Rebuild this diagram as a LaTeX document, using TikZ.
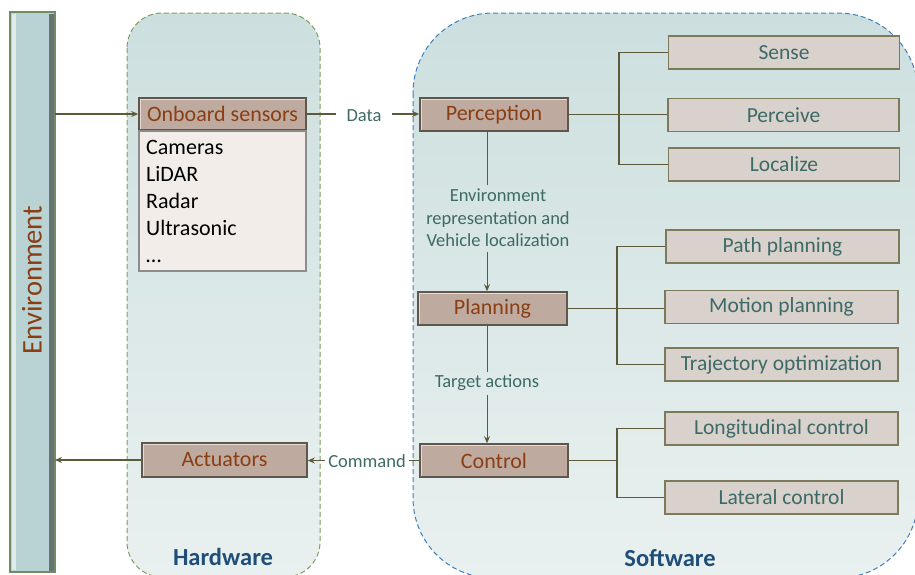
\documentclass[tikz,border=0pt]{standalone}
\usepackage{fontspec}
\setmainfont{Carlito}
\usetikzlibrary{arrows.meta,calc}
\definecolor{brownfill}{HTML}{BFAA9F}
\definecolor{brownedge}{HTML}{5F574E}
\definecolor{brownlight}{HTML}{E6DAD2}
\definecolor{browntext}{HTML}{8A3E14}
\definecolor{tealtext}{HTML}{3D6A67}
\definecolor{subfill}{HTML}{D9D1CC}
\definecolor{subedge}{HTML}{7D7A5C}
\definecolor{linecol}{HTML}{5C5A3A}
\definecolor{listfill}{HTML}{F2EDE9}
\definecolor{envfill}{HTML}{B9D3D4}
\definecolor{envedge}{HTML}{6F8C62}
\definecolor{regtop}{HTML}{CCDFDE}
\definecolor{regbot}{HTML}{E9F1F0}
\definecolor{hwedge}{HTML}{7C9E5E}
\definecolor{swedge}{HTML}{3F7FC0}
\definecolor{titleblue}{HTML}{1F4E79}
\tikzset{
  mainbox/.style={draw=brownedge, line width=1.6pt, fill=brownfill, text=browntext,
    font=\fontsize{22}{24}\selectfont, inner sep=0pt,
    path picture={\draw[brownlight, line width=1.6pt]
      ([shift={(1.6pt,1.2pt)}]path picture bounding box.south west) --
      ([shift={(1.6pt,-1.6pt)}]path picture bounding box.north west) --
      ([shift={(-1.2pt,-1.6pt)}]path picture bounding box.north east);}},
  subbox/.style={draw=subedge, line width=1.2pt, fill=subfill, text=tealtext,
    font=\fontsize{21.5}{24}\selectfont, minimum width=231pt, minimum height=33pt, inner sep=0pt},
  lbl/.style={text=tealtext, font=\fontsize{18.5}{22}\selectfont, inner sep=1pt},
  conn/.style={draw=linecol, line width=1.2pt},
  thin/.style={draw=linecol, line width=1pt},
  arr/.style={-{Stealth[length=7pt,width=6pt]}},
  tree/.style={draw=linecol, line width=1.2pt},
  title/.style={text=titleblue, font=\fontsize{24.5}{28}\selectfont\bfseries},
  regdash/.style={dash pattern=on 5pt off 3pt, line width=1pt},
}
\begin{document}
\begin{tikzpicture}[x=1pt,y=-1pt]
\useasboundingbox (0,0) rectangle (915,574);
% regions
\shade[top color=regtop, bottom color=regbot, rounded corners=35pt]
  (127,13) rectangle (320,577);
\draw[hwedge, regdash, rounded corners=35pt]
  (127,13) rectangle (320,577);
\shade[top color=regtop, bottom color=regbot, rounded corners=80pt]
  (413,13) rectangle (918,578);
\draw[swedge, regdash, rounded corners=80pt]
  (413,13) rectangle (918,578);
% environment bar
\fill[envfill] (10,12) rectangle (55,572);
\fill[black!45!envfill] (49,14) rectangle (55,572);
\fill[white!55!envfill] (12,14) rectangle (16,570);
\draw[envedge, line width=1.2pt] (10,12) rectangle (55,572);
\node[rotate=90, text=browntext, font=\fontsize{28.5}{30}\selectfont] (env) at (32,280) {Environment};
\coordinate (envtop) at (55,114);
\coordinate (envbot) at (55,460);
% hardware boxes
\node[mainbox, minimum width=167pt, minimum height=32pt] (sens) at (222.5,114) {Onboard sensors};
\node[draw=black!45, line width=1.4pt, fill=listfill, minimum width=167pt, minimum height=140pt,
  inner sep=0pt] (list) at (222.5,201) {};
\node[anchor=west, align=left, font=\fontsize{22}{27}\selectfont, inner sep=0pt] at (146,201)
  {Cameras\\LiDAR\\Radar\\Ultrasonic\\…};
\node[mainbox, minimum width=165pt, minimum height=34pt] (act) at (224.5,460) {Actuators};
% software main boxes
\node[mainbox, minimum width=148pt, minimum height=33pt] (perc) at (494,114.5) {Perception};
\node[mainbox, minimum width=149pt, minimum height=33pt] (plan) at (492.5,308.5) {Planning};
\node[mainbox, minimum width=148pt, minimum height=33pt] (ctrl) at (494,460.5) {Control};
% sub boxes
\node[subbox] (sense) at (784,52.5) {Sense};
\node[subbox] (perceive) at (783.5,115) {Perceive};
\node[subbox] (localize) at (784,164.5) {Localize};
\node[subbox, minimum width=233pt] (path) at (782.5,246.5) {Path planning};
\node[subbox, minimum width=233pt] (motion) at (781.5,307) {Motion planning};
\node[subbox, minimum width=233pt] (traj) at (781.5,364.5) {Trajectory optimization};
\node[subbox, minimum width=233pt] (long) at (781.5,428.5) {Longitudinal control};
\node[subbox, minimum width=233pt] (lat) at (781.5,497.5) {Lateral control};
% labels
\node[lbl, inner xsep=10pt] (data) at (364,116) {Data};
\node[lbl, align=center, font=\fontsize{18.5}{22.5}\selectfont] (envrep) at (498,218)
  {Environment\\representation and\\Vehicle localization};
\node[lbl] (target) at (487,383) {Target actions};
\node[lbl, inner xsep=3pt] (cmd) at (367,461) {Command};
% connectors
\draw[conn, arr] (envtop) -- (envtop -| sens.west);
\draw[conn] (sens.east) -- (sens.east -| data.west);
\draw[conn, arr] (sens.east -| data.east) -- (sens.east -| perc.west);
\draw[thin] (perc.south -| 487,0) -- (487,185);
\draw[thin, arr] (487,252) -- (plan.north -| 487,0);
\draw[thin] (plan.south -| 487,0) -- (487,372);
\draw[thin, arr] (487,395) -- (ctrl.north -| 487,0);
\draw[conn] (ctrl.west) -- (ctrl.west -| cmd.east);
\draw[conn, arr] (ctrl.west -| cmd.west) -- (ctrl.west -| act.east);
\draw[conn, arr] (act.west) -- (envbot);
% trees
\draw[tree] (perc.east) -- (perc.east -| perceive.west);
\draw[tree] (sense.west) -- (619,52.5) -- (619,164.5) -- (localize.west);
\draw[tree] (plan.east) -- (plan.east -| motion.west);
\draw[tree] (path.west) -- (617,246.5) -- (617,364.5) -- (traj.west);
\draw[tree] (ctrl.east) -- (617,460.5);
\draw[tree] (long.west) -- (617,428.5) -- (617,497.5) -- (lat.west);
% titles
\node[title] (hw) at (223,557) {Hardware};
\node[title] (sw) at (670,558) {Software};
\end{tikzpicture}
\end{document}
